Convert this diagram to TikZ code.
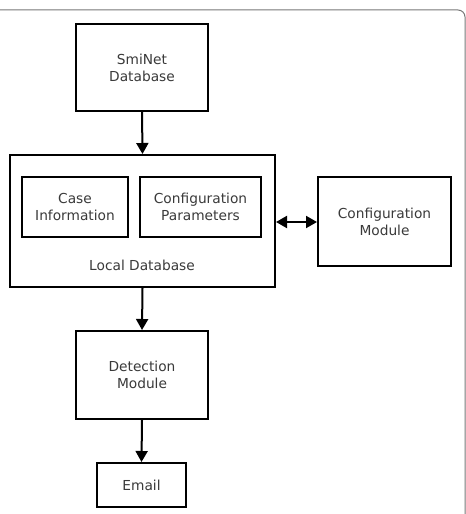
\documentclass[tikz,border=0pt]{standalone}
\usepackage{fontspec}
\setmainfont{DejaVu Sans}
\usetikzlibrary{arrows.meta}
\definecolor{txt}{HTML}{3A3A3A}
\definecolor{frame}{HTML}{777777}
\begin{document}
\begin{tikzpicture}[x=1bp,y=-1bp,
  box/.style={draw=black,line width=2bp,fill=white,inner sep=0pt},
  lbl/.style={text=txt,font=\fontsize{13.8}{17}\selectfont,align=center,inner sep=0pt},
  arr/.style={line width=2bp,-{Triangle[length=11bp,width=12bp]}},
  darr/.style={line width=2bp,{Triangle[length=11bp,width=12bp]}-{Triangle[length=11bp,width=12bp]}}]
\useasboundingbox (0,0) rectangle (466,514);
\draw[frame,line width=1bp,rounded corners=7bp] (-10,530) -- (-10,10) -- (465,10) -- (465,530);
% boxes
\node[box,minimum width=132bp,minimum height=87bp] (smi) at (142,67.5) {};
\node[lbl] at (smi) {SmiNet\\Database};
\node[box,minimum width=265bp,minimum height=132bp] (ldb) at (142.5,221) {};
\node[lbl] (ldbl) at (142,265) {Local Database};
\node[box,minimum width=106bp,minimum height=60bp] (case) at (75,207) {};
\node[lbl] at (case) {Case\\Information};
\node[box,minimum width=121bp,minimum height=60bp] (cpar) at (200.5,207) {};
\node[lbl] at (cpar) {Configuration\\Parameters};
\node[box,minimum width=133bp,minimum height=89bp] (cmod) at (384.5,221.5) {};
\node[lbl] at (cmod) {Configuration\\Module};
\node[box,minimum width=132bp,minimum height=88bp] (det) at (142,375) {};
\node[lbl] at (det) {Detection\\Module};
\node[box,minimum width=89bp,minimum height=44bp] (email) at (141.5,485) {};
\node[lbl] at (email) {Email};
% connectors
\draw[arr] (smi.south) -- (ldb.north);
\draw[darr] (ldb.east |- 0,222) -- (cmod.west |- 0,222);
\draw[arr] (ldb.south) -- (det.north);
\draw[arr] (det.south) -- (email.north);
\end{tikzpicture}
\end{document}
